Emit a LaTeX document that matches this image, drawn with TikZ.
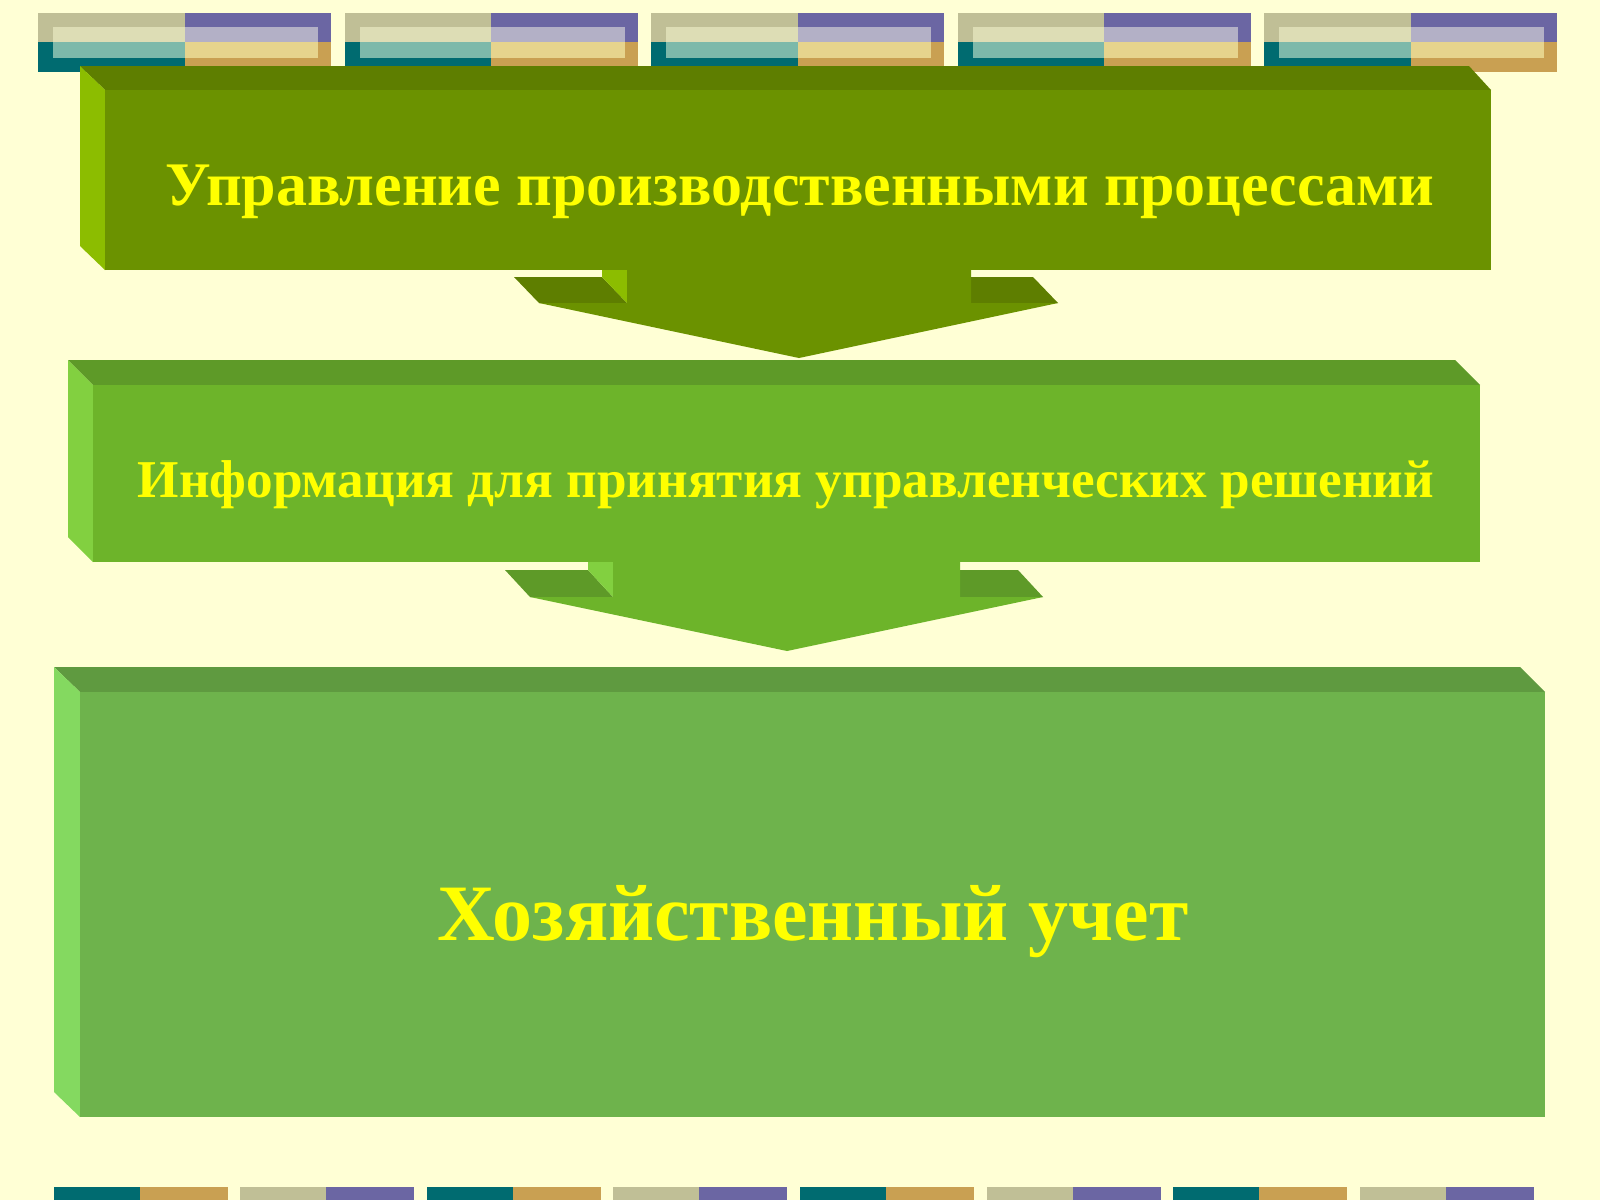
\documentclass[tikz,border=0pt]{standalone}
\usepackage{fontspec}
\setmainfont{Liberation Serif}
\definecolor{bg}{HTML}{FFFFD5}
\definecolor{khaki}{HTML}{C0BF96}
\definecolor{teal}{HTML}{006B70}
\definecolor{purp}{HTML}{6B66A3}
\definecolor{gold}{HTML}{C9A052}
\definecolor{ikhaki}{HTML}{DDDDB5}
\definecolor{iteal}{HTML}{7DB9AA}
\definecolor{ipurp}{HTML}{B3B0C6}
\definecolor{igold}{HTML}{E6D48D}
\definecolor{oFront}{HTML}{6B9200}
\definecolor{oTop}{HTML}{5E7E00}
\definecolor{oSide}{HTML}{8CBD00}
\definecolor{gFront}{HTML}{6DB42A}
\definecolor{gTop}{HTML}{5E9A28}
\definecolor{gSide}{HTML}{82D040}
\definecolor{lFront}{HTML}{6EB34C}
\definecolor{lTop}{HTML}{5F9A40}
\definecolor{lSide}{HTML}{84D960}
\definecolor{txt}{HTML}{FFFF00}
\tikzset{
  label1/.style={text=txt,font=\bfseries\fontsize{31}{36}\selectfont,inner sep=0pt},
  label2/.style={text=txt,font=\bfseries\fontsize{26.6}{32}\selectfont,inner sep=0pt},
  label3/.style={text=txt,font=\bfseries\fontsize{40}{48}\selectfont,inner sep=0pt},
}
\begin{document}
\begin{tikzpicture}[x=0.5pt,y=-0.5pt]
\fill[bg] (0,0) rectangle (1600,1200);
\useasboundingbox (0,0) rectangle (1600,1200);
% top tiles
\foreach \i in {0,...,4}{
  \pgfmathsetmacro{\xa}{38+\i*306.5}
  \pgfmathsetmacro{\xm}{\xa+146.5}
  \pgfmathsetmacro{\xb}{\xa+293}
  \fill[khaki] (\xa,13) rectangle (\xm,42);
  \fill[teal] (\xa,42) rectangle (\xm,72);
  \fill[purp] (\xm,13) rectangle (\xb,42);
  \fill[gold] (\xm,42) rectangle (\xb,72);
  \fill[ikhaki] (\xa+15,27) rectangle (\xm,42);
  \fill[iteal] (\xa+15,42) rectangle (\xm,58);
  \fill[ipurp] (\xm,27) rectangle (\xb-13,42);
  \fill[igold] (\xm,42) rectangle (\xb-13,58);
}
% bottom tiles
\foreach \i in {0,...,7}{
  \pgfmathsetmacro{\xa}{53.6+\i*186.6}
  \pgfmathsetmacro{\xm}{\xa+86}
  \pgfmathsetmacro{\xb}{\xa+174}
  \pgfmathtruncatemacro{\odd}{mod(\i,2)}
  \ifnum\odd=0
    \fill[teal] (\xa,1187) rectangle (\xm,1200);
    \fill[gold] (\xm,1187) rectangle (\xb,1200);
  \else
    \fill[khaki] (\xa,1187) rectangle (\xm,1200);
    \fill[purp] (\xm,1187) rectangle (\xb,1200);
  \fi
}
% arrow 1
\fill[oTop] (514,277) -- (602,277) -- (627,303) -- (539,303) -- cycle;
\fill[oSide] (602,250) -- (627,250) -- (627,303) -- (602,277) -- cycle;
\fill[oTop] (946,277) -- (1033,277) -- (1058,303) -- (971,303) -- cycle;
\fill[oFront] (627,250) -- (627,303) -- (539,303) -- (799,358) -- (1058,303) -- (971,303) -- (971,250) -- cycle;
% box 1
\fill[oTop] (80,66) -- (1469,66) -- (1491,90) -- (105,90) -- cycle;
\fill[oSide] (80,66) -- (105,90) -- (105,270) -- (80,246) -- cycle;
\fill[oFront] (105,90) rectangle (1491,270);
\node[label1] (t1) at (800,192) {Управление производственными процессами};
% arrow 2
\fill[gTop] (505,570) -- (588,570) -- (613,597) -- (530,597) -- cycle;
\fill[gSide] (588,540) -- (613,540) -- (613,597) -- (588,570) -- cycle;
\fill[gTop] (935,570) -- (1018,570) -- (1043,597) -- (960,597) -- cycle;
\fill[gFront] (613,540) -- (613,597) -- (530,597) -- (787,651) -- (1043,597) -- (960,597) -- (960,540) -- cycle;
% box 2
\fill[gTop] (68,360) -- (1455,360) -- (1480,385) -- (93,385) -- cycle;
\fill[gSide] (68,360) -- (93,385) -- (93,562) -- (68,537) -- cycle;
\fill[gFront] (93,385) rectangle (1480,562);
\node[label2] (t2) at (786,485) {Информация для принятия управленческих решений};
% box 3
\fill[lTop] (54,667) -- (1520,667) -- (1545,692) -- (80,692) -- cycle;
\fill[lSide] (54,667) -- (80,692) -- (80,1117) -- (54,1092) -- cycle;
\fill[lFront] (80,692) rectangle (1545,1117);
\node[label3] (t3) at (813,922) {Хозяйственный учет};
\end{tikzpicture}
\end{document}
